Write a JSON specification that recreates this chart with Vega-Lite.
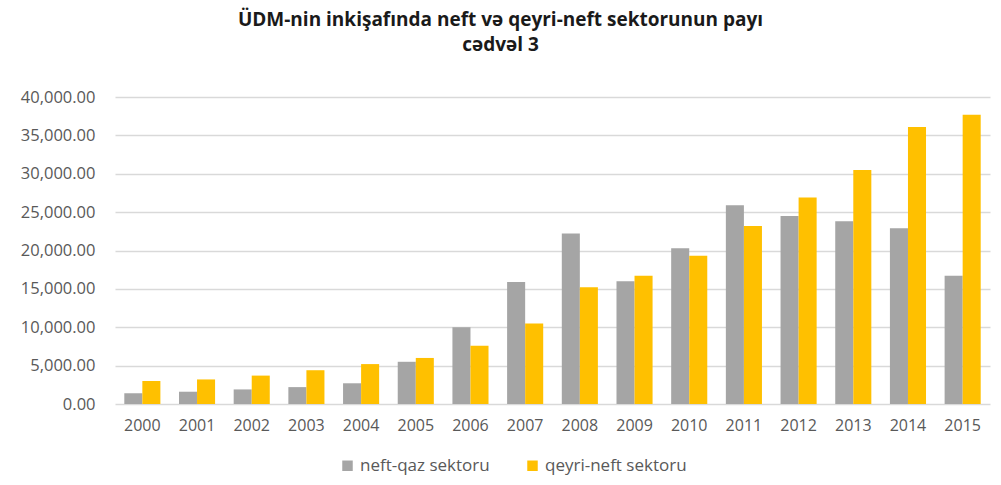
{
  "$schema": "https://vega.github.io/schema/vega-lite/v6.json",
  "autosize": "none",
  "width": 875,
  "height": 307,
  "padding": {"left": 115, "top": 97, "right": 11, "bottom": 81},
  "background": "white",
  "title": {
    "text": ["ÜDM-nin inkişafında neft və qeyri-neft sektorunun payı", "cədvəl 3"],
    "font": "Open Sans",
    "fontSize": 19,
    "fontWeight": "bold",
    "color": "#1a1a1a",
    "anchor": "middle",
    "dx": -52,
    "offset": 34,
    "lineHeight": 25
  },
  "data": {
    "values": [
      {"year": "2000", "sector": "neft-qaz sektoru", "value": 1400},
      {"year": "2000", "sector": "qeyri-neft sektoru", "value": 3000},
      {"year": "2001", "sector": "neft-qaz sektoru", "value": 1600},
      {"year": "2001", "sector": "qeyri-neft sektoru", "value": 3200},
      {"year": "2002", "sector": "neft-qaz sektoru", "value": 1900},
      {"year": "2002", "sector": "qeyri-neft sektoru", "value": 3700},
      {"year": "2003", "sector": "neft-qaz sektoru", "value": 2200},
      {"year": "2003", "sector": "qeyri-neft sektoru", "value": 4400},
      {"year": "2004", "sector": "neft-qaz sektoru", "value": 2700},
      {"year": "2004", "sector": "qeyri-neft sektoru", "value": 5200},
      {"year": "2005", "sector": "neft-qaz sektoru", "value": 5500},
      {"year": "2005", "sector": "qeyri-neft sektoru", "value": 6000},
      {"year": "2006", "sector": "neft-qaz sektoru", "value": 10000},
      {"year": "2006", "sector": "qeyri-neft sektoru", "value": 7600},
      {"year": "2007", "sector": "neft-qaz sektoru", "value": 15900},
      {"year": "2007", "sector": "qeyri-neft sektoru", "value": 10500},
      {"year": "2008", "sector": "neft-qaz sektoru", "value": 22200},
      {"year": "2008", "sector": "qeyri-neft sektoru", "value": 15200},
      {"year": "2009", "sector": "neft-qaz sektoru", "value": 16000},
      {"year": "2009", "sector": "qeyri-neft sektoru", "value": 16700},
      {"year": "2010", "sector": "neft-qaz sektoru", "value": 20300},
      {"year": "2010", "sector": "qeyri-neft sektoru", "value": 19300},
      {"year": "2011", "sector": "neft-qaz sektoru", "value": 25900},
      {"year": "2011", "sector": "qeyri-neft sektoru", "value": 23200},
      {"year": "2012", "sector": "neft-qaz sektoru", "value": 24500},
      {"year": "2012", "sector": "qeyri-neft sektoru", "value": 26900},
      {"year": "2013", "sector": "neft-qaz sektoru", "value": 23800},
      {"year": "2013", "sector": "qeyri-neft sektoru", "value": 30500},
      {"year": "2014", "sector": "neft-qaz sektoru", "value": 22900},
      {"year": "2014", "sector": "qeyri-neft sektoru", "value": 36100},
      {"year": "2015", "sector": "neft-qaz sektoru", "value": 16700},
      {"year": "2015", "sector": "qeyri-neft sektoru", "value": 37700}
    ]
  },
  "mark": {"type": "bar"},
  "encoding": {
    "x": {
      "field": "year",
      "type": "nominal",
      "scale": {"paddingInner": 0.34, "paddingOuter": 0.17},
      "axis": {
        "title": null,
        "labelAngle": 0,
        "labelFont": "Open Sans",
        "labelFontSize": 16,
        "labelColor": "#595959",
        "labelPadding": 13,
        "ticks": false,
        "domain": false
      }
    },
    "xOffset": {
      "field": "sector",
      "type": "nominal",
      "scale": {"paddingInner": 0, "paddingOuter": 0}
    },
    "y": {
      "field": "value",
      "type": "quantitative",
      "scale": {"domain": [0, 40000], "nice": false},
      "axis": {
        "title": null,
        "format": ",.2f",
        "values": [0, 5000, 10000, 15000, 20000, 25000, 30000, 35000, 40000],
        "labelOverlap": false,
        "labelFont": "Open Sans",
        "labelFontSize": 16.5,
        "labelColor": "#595959",
        "labelPadding": 20,
        "ticks": false,
        "domain": false,
        "gridColor": "#d9d9d9",
        "gridWidth": 1.5
      }
    },
    "color": {
      "field": "sector",
      "type": "nominal",
      "scale": {"domain": ["neft-qaz sektoru", "qeyri-neft sektoru"], "range": ["#A5A5A5", "#FFC000"]},
      "legend": {
        "title": null,
        "orient": "none",
        "direction": "horizontal",
        "legendX": 224,
        "legendY": 360,
        "symbolType": "square",
        "symbolSize": 110,
        "symbolStrokeWidth": 0,
        "labelFont": "Open Sans",
        "labelFontSize": 17,
        "labelColor": "#595959",
        "columnPadding": 34
      }
    }
  },
  "config": {"view": {"stroke": null}}
}
